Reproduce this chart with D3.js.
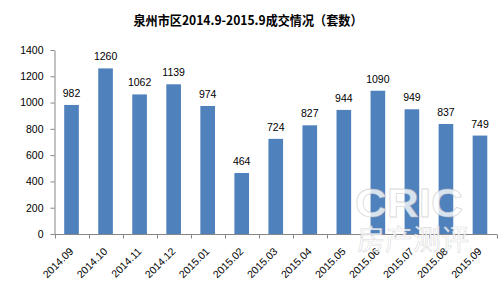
<!DOCTYPE html>
<html>
<head>
<meta charset="utf-8">
<script src="https://cdn.jsdelivr.net/npm/d3@7"></script>
<style>
  body { margin: 0; background: #fff; }
  svg { font-family: "Liberation Sans", "Noto Sans CJK SC", sans-serif; }
</style>
</head>
<body>
<svg width="500" height="285"></svg>
<script>
// months and deal counts (units)
const months = ['2014.09', '2014.10', '2014.11', '2014.12', '2015.01', '2015.02', '2015.03',
                '2015.04', '2015.05', '2015.06', '2015.07', '2015.08', '2015.09'];
const deals = [982, 1260, 1062, 1139, 974, 464, 724, 827, 944, 1090, 949, 837, 749];
const yTicks = [0, 200, 400, 600, 800, 1000, 1200, 1400];

const svg = d3.select('svg');

svg.append('text')
    .attr('x', 248)
    .attr('y', 25)
    .attr('text-anchor', 'middle')
    .attr('textLength', 229)
    .attr('lengthAdjust', 'spacingAndGlyphs')
    .style('font-size', '13px')
    .style('font-weight', 'bold')
    .style('font-family', '"Noto Sans CJK SC", sans-serif')
    .text('泉州市区2014.9-2015.9成交情况（套数）');

var x = d3.scaleBand()
    .domain(months)
    .range([54.5, 497])
    .paddingInner(0.57)
    .paddingOuter(0.285);

var y = d3.scaleLinear()
    .domain([0, 1400])
    .range([234, 50]);

// y axis
var yAxis = svg.append('g')
    .attr('transform', 'translate(54.5,0)')
    .call(d3.axisLeft(y).tickValues(yTicks).tickFormat(d3.format('d')).tickSize(4).tickSizeOuter(0));
yAxis.select('.domain').attr('stroke', '#868686');
yAxis.selectAll('.tick line').attr('stroke', '#868686');
yAxis.selectAll('text')
    .attr('x', -11)
    .style('font-size', '10.5px')
    .style('font-family', '"Liberation Sans", sans-serif')
    .attr('fill', '#000');

// bars
svg.selectAll('rect.bar')
    .data(deals)
    .enter()
    .append('rect')
    .attr('class', 'bar')
    .attr('x', (d, i) => x(months[i]))
    .attr('width', x.bandwidth())
    .attr('y', d => y(d))
    .attr('height', d => y(0) - y(d))
    .attr('fill', '#4F81BD');

// value labels
svg.selectAll('text.val')
    .data(deals)
    .enter()
    .append('text')
    .attr('class', 'val')
    .attr('x', (d, i) => x(months[i]) + x.bandwidth() / 2)
    .attr('y', d => y(d) - 8)
    .attr('text-anchor', 'middle')
    .style('font-size', '10.5px')
    .text(d => d);

// x axis with ticks at category boundaries
var xg = svg.append('g');
xg.append('line')
    .attr('x1', 54.5).attr('x2', 497)
    .attr('y1', 234.5).attr('y2', 234.5)
    .attr('stroke', '#868686');
var step = x.step();
var left = x(months[0]) - (step - x.bandwidth()) / 2;
xg.selectAll('line.tk')
    .data(d3.range(months.length + 1))
    .enter()
    .append('line')
    .attr('class', 'tk')
    .attr('x1', i => Math.round(left + i * step) + 0.5)
    .attr('x2', i => Math.round(left + i * step) + 0.5)
    .attr('y1', 234.5).attr('y2', 238.5)
    .attr('stroke', '#868686');
xg.selectAll('text')
    .data(months)
    .enter()
    .append('text')
    .attr('transform', d => 'translate(' + (x(d) + x.bandwidth() / 2 + 2.5) + ',252) rotate(-45)')
    .attr('text-anchor', 'end')
    .style('font-size', '10.5px')
    .text(d => d);

// watermark
svg.append('text')
    .attr('x', 409).attr('y', 217)
    .attr('text-anchor', 'middle')
    .attr('textLength', 108)
    .attr('lengthAdjust', 'spacingAndGlyphs')
    .style('font-size', '41px')
    .style('font-weight', 'bold')
    .style('font-family', '"Liberation Sans", sans-serif')
    .attr('fill', 'rgba(255,255,255,0.8)')
    .attr('stroke', 'rgba(180,180,180,0.5)')
    .attr('stroke-width', 0.8)
    .text('CRIC');
svg.append('text')
    .attr('x', 413).attr('y', 250)
    .attr('text-anchor', 'middle')
    .attr('textLength', 112)
    .attr('lengthAdjust', 'spacingAndGlyphs')
    .style('font-size', '28px')
    .style('font-family', '"Noto Sans CJK SC", sans-serif')
    .attr('fill', 'rgba(255,255,255,0.78)')
    .attr('stroke', 'rgba(180,180,180,0.5)')
    .attr('stroke-width', 0.6)
    .text('房产测评');
</script>
</body>
</html>
